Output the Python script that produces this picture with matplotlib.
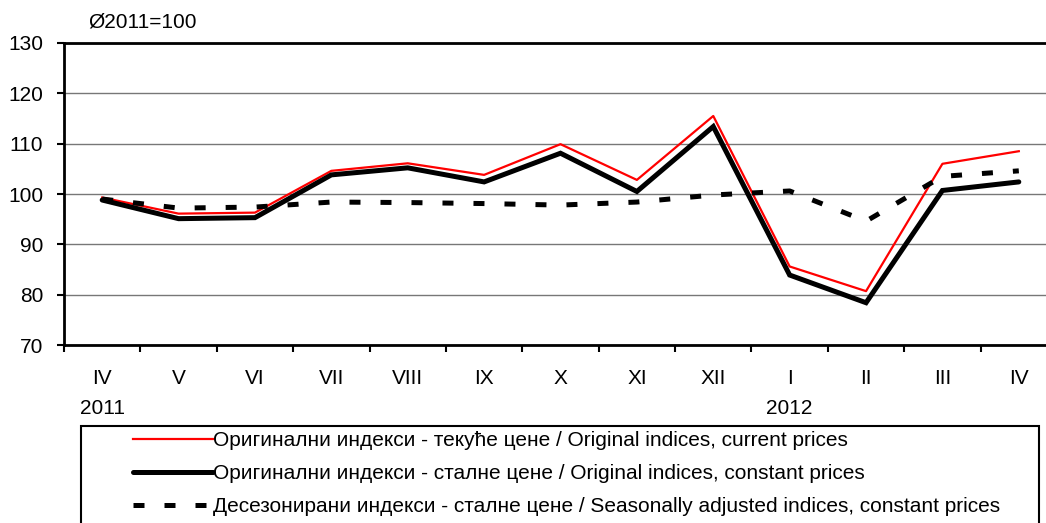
import matplotlib
matplotlib.use("Agg")
import matplotlib.pyplot as plt
from matplotlib.patches import Rectangle
from matplotlib.ticker import FixedLocator

plt.rcParams["font.family"] = ["Liberation Sans", "DejaVu Sans"]

months = ["IV", "V", "VI", "VII", "VIII", "IX", "X", "XI", "XII", "I", "II", "III", "IV"]
years = {0: "2011", 9: "2012"}

current_prices = [99.3, 96.1, 96.3, 104.6, 106.1, 103.8, 109.9, 102.8, 115.5, 85.6, 80.7, 106.0, 108.5]
constant_prices = [98.8, 95.1, 95.3, 103.8, 105.2, 102.4, 108.1, 100.5, 113.4, 83.9, 78.4, 100.7, 102.4]
seasonally_adj = [99.0, 97.2, 97.4, 98.4, 98.3, 98.1, 97.8, 98.4, 99.8, 100.6, 94.6, 103.5, 104.6]

labels = [
    "Оригинални индекси - текуће цене / Original indices, current prices",
    "Оригинални индекси - сталне цене / Original indices, constant prices",
    "Десезонирани индекси - сталне цене / Seasonally adjusted indices, constant prices",
]

W, H = 1046, 523
FS = 15
fig = plt.figure(figsize=(W / 100, H / 100), dpi=100)
ax = fig.add_axes([64 / W, 1 - 345 / H, (1057 - 64) / W, (345 - 43) / H])

x = list(range(len(months)))
ax.plot(x, current_prices, color="#ff0000", lw=1.6, label=labels[0], zorder=3)
ax.plot(x, constant_prices, color="black", lw=3.6, label=labels[1],
        solid_capstyle="round", solid_joinstyle="miter", zorder=4)
ax.plot(x, seasonally_adj, color="black", lw=3.6, label=labels[2],
        dashes=(2.2, 4.0), dash_capstyle="butt", zorder=5)

ax.set_xlim(-0.5, len(months) - 0.5)
ax.set_ylim(70, 130)
ax.set_yticks(range(70, 131, 10))
ax.grid(axis="y", color="#777777", lw=1.0)
ax.set_axisbelow(True)

ticklabels = [m + ("\n" + years[i] if i in years else "") for i, m in enumerate(months)]
ax.set_xticks(x)
ax.set_xticklabels(ticklabels, linespacing=1.75)
ax.xaxis.set_minor_locator(FixedLocator([i + 0.5 for i in range(-1, len(months))]))
ax.tick_params(axis="x", which="major", length=0, pad=17, labelsize=FS)
ax.tick_params(axis="x", which="minor", length=5, width=1.5, direction="out")
ax.tick_params(axis="y", length=5, width=1.5, pad=10, labelsize=FS)

for side in ["left", "bottom", "top"]:
    ax.spines[side].set_linewidth(2)
    ax.spines[side].set_color("black")
ax.spines["right"].set_visible(False)

fig.text(88 / W, 1 - 22 / H, "Ø2011=100", fontsize=FS, va="center", ha="left")

# legend without its own frame, box drawn separately
leg = fig.legend(loc="upper left", bbox_to_anchor=(133 / W, 1 - 431 / H),
                 fontsize=FS, frameon=False, handlelength=3.85, handletextpad=0.0,
                 labelspacing=0.68, borderpad=0.0, borderaxespad=0.0)
fig.patches.append(Rectangle((81 / W, 1 - 545 / H), (1039 - 81) / W, (545 - 426) / H,
                             transform=fig.transFigure, fill=False,
                             edgecolor="black", lw=1.5))

fig.savefig("out.png", dpi=100)
